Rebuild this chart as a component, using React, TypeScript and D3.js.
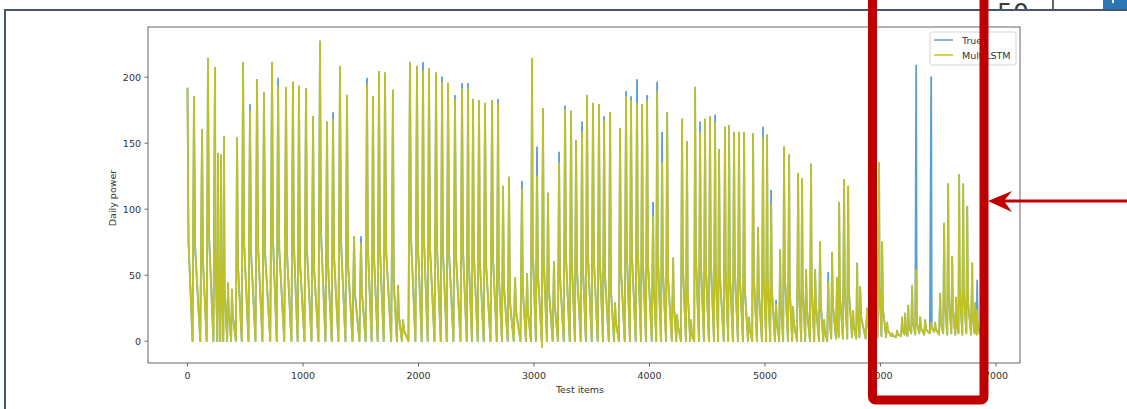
import React from 'react';
import * as d3 from 'd3';

// spike positions (test item index)
const spikeItems = [
  0, 56, 126, 177, 238, 264, 290, 316, 351, 385,
  429, 481, 541, 602, 662, 732, 784, 853, 913, 965,
  1026, 1087, 1147, 1208, 1260, 1320, 1381, 1442, 1502, 1554,
  1606, 1658, 1710, 1779, 1823, 1866, 1926, 1987, 2039, 2091,
  2152, 2204, 2256, 2316, 2377, 2429, 2472, 2524, 2576, 2637,
  2689, 2732, 2784, 2836, 2896, 2940, 2983, 3026, 3078, 3121,
  3173, 3217, 3269, 3321, 3364, 3416, 3459, 3511, 3563, 3607,
  3659, 3702, 3745, 3797, 3840, 3892, 3936, 3979, 4031, 4066,
  4109, 4153, 4205, 4239, 4282, 4325, 4360, 4395, 4438, 4481,
  4524, 4568, 4602, 4654, 4689, 4732, 4775, 4819, 4862, 4897,
  4940, 4983, 5018, 5053, 5096, 5131, 5165, 5209, 5243, 5287,
  5321, 5356, 5399, 5434, 5477, 5512, 5547, 5581, 5624, 5642,
  5685, 5720, 5763, 5798, 5824, 5885, 5928, 5988, 6014, 6058,
  6101, 6144, 6188, 6214, 6240, 6274, 6309, 6344, 6387, 6439,
  6473, 6517, 6551, 6586, 6621, 6655, 6681, 6716, 6751, 6794,
  6820, 6837,
];

const truePeaks = [
  192, 185, 160, 214, 207, 142, 141, 155, 44, 39,
  154, 211, 179, 198, 188, 211, 199, 192, 196, 193,
  191, 170, 227, 166, 173, 208, 186, 79, 79, 199,
  185, 204, 203, 190, 42, 16, 211, 208, 211, 206,
  203, 200, 195, 186, 195, 195, 183, 182, 180, 182,
  183, 117, 124, 48, 121, 51, 214, 147, 176, 112,
  60, 143, 178, 174, 152, 166, 186, 180, 179, 170,
  173, 29, 161, 189, 185, 198, 179, 186, 105, 196,
  158, 173, 63, 20, 168, 151, 16, 192, 166, 168,
  170, 171, 145, 162, 163, 158, 158, 158, 18, 157,
  86, 162, 156, 114, 31, 69, 147, 141, 26, 127,
  123, 54, 134, 54, 75, 16, 52, 67, 48, 105,
  122, 117, 23, 59, 41, 25, 20, 135, 75, 14,
  6, 8, 18, 21, 27, 42, 209, 18, 16, 200,
  14, 36, 89, 119, 64, 33, 126, 119, 102, 59,
  29, 46,
];

const predPeaks = [
  192, 185, 160, 214, 207, 142, 141, 155, 44, 39,
  154, 211, 175, 198, 188, 211, 193, 192, 196, 193,
  191, 170, 227, 166, 168, 208, 186, 79, 74, 194,
  185, 204, 203, 190, 42, 16, 211, 208, 205, 206,
  203, 196, 195, 183, 191, 191, 183, 182, 180, 182,
  180, 117, 124, 48, 115, 51, 214, 125, 176, 112,
  60, 135, 175, 174, 152, 158, 186, 180, 179, 167,
  173, 29, 161, 185, 182, 180, 179, 182, 95, 189,
  135, 173, 63, 20, 168, 151, 16, 192, 158, 168,
  170, 166, 145, 162, 163, 158, 158, 158, 18, 157,
  86, 154, 156, 104, 28, 69, 147, 141, 26, 127,
  123, 54, 134, 54, 75, 16, 45, 67, 48, 105,
  122, 117, 23, 59, 41, 25, 20, 135, 75, 14,
  6, 8, 18, 21, 27, 42, 54, 18, 16, 14,
  14, 36, 89, 119, 64, 33, 126, 119, 102, 59,
  29, 24,
];

// level the line falls back to right after each peak
const shoulders = [
  76, 70, 62, 80, 70, 55, 60, 40, 25, 20,
  58, 75, 68, 72, 65, 78, 70, 66, 74, 60,
  68, 55, 82, 60, 64, 76, 58, 35, 38, 70,
  66, 72, 68, 45, 20, 8, 78, 74, 80, 70,
  72, 68, 66, 64, 70, 62, 66, 60, 58, 64,
  50, 42, 30, 22, 40, 24, 70, 52, 62, 40,
  28, 50, 64, 60, 55, 58, 66, 62, 64, 50,
  40, 15, 55, 68, 66, 70, 62, 60, 45, 64,
  55, 48, 30, 12, 58, 40, 6, 66, 60, 58,
  62, 56, 50, 55, 52, 55, 50, 40, 10, 48,
  38, 52, 48, 40, 16, 30, 50, 40, 14, 45,
  42, 25, 40, 28, 30, 8, 24, 28, 20, 35,
  40, 38, 12, 25, 18, 12, 10, 40, 25, 8,
  4, 5, 8, 10, 12, 15, 14, 10, 9, 10,
  9, 14, 30, 35, 25, 14, 40, 38, 30, 22,
  12, 15,
];

// lowest level between spikes
const troughs = [
  0, 0, 0, 0, 0, 0, 0, 0, 0, 0,
  0, 0, 0, 0, 0, 0, 0, 0, 0, 0,
  0, 0, 0, 0, 0, 0, 0, 0, 0, 0,
  0, 0, 0, 0, 0, 0, 0, 0, 0, 0,
  0, 0, 0, 0, 0, 0, 0, 0, 0, 0,
  0, 0, 0, 0, 0, 0, 0, 0, 0, 0,
  0, 0, 0, 0, 0, 0, 0, 0, 0, 0,
  0, 0, 0, 0, 0, 0, 0, 0, 0, 0,
  0, 0, 0, 0, 0, 0, 0, 0, 0, 0,
  0, 0, 0, 0, 0, 0, 0, 0, 0, 0,
  0, 0, 0, 0, 0, 0, 0, 0, 0, 0,
  0, 0, 0, 0, 0, 0, 2, 2, 3, 2,
  2, 3, 2, 3, 2, 3, 3, 4, 3, 4,
  3, 4, 5, 4, 6, 5, 6, 5, 6, 7,
  5, 6, 5, 6, 5, 6, 5, 6, 5, 6,
  5, 5,
];

const predDips: [number, number][] = [[3069, -4.5]];

const xTicks = [0, 1000, 2000, 3000, 4000, 5000, 6000, 7000];
const yTicks = [0, 50, 100, 150, 200];
const xLimits = [-342, 7208];
const yLimits = [-16.5, 238];

const seriesNames = ['True', 'MultiLSTM'];
const seriesColors = ['#5b9fd3', '#c4c41c'];

function buildSeries(peaks: number[], extra: [number, number][] = []) {
  const pts: [number, number][] = [];
  spikeItems.forEach((item, i) => {
    const next = i < spikeItems.length - 1 ? spikeItems[i + 1] : item + 30;
    const gap = next - item;
    pts.push([item, peaks[i]]);
    pts.push([item + gap * 0.15, Math.min(shoulders[i], peaks[i])]);
    pts.push([item + gap * 0.78, troughs[i]]);
  });
  extra.forEach(p => pts.push(p));
  pts.sort((a, b) => a[0] - b[0]);
  return pts;
}

const font = 'DejaVu Sans, sans-serif';

export default function App() {
  const W = 1127;
  const H = 409;
  const plot = { left: 148, right: 1020, top: 27, bottom: 363 };

  const x = d3.scaleLinear().domain(xLimits).range([plot.left, plot.right]);
  const y = d3.scaleLinear().domain(yLimits).range([plot.bottom, plot.top]);

  const line = d3.line<[number, number]>()
    .x(d => x(d[0]))
    .y(d => y(d[1]));

  const trueSeries = buildSeries(truePeaks);
  const predSeries = buildSeries(predPeaks, predDips);

  const red = '#c00000';

  return (
    <svg width={W} height={H} style={{ position: 'absolute', left: 0, top: 0, background: '#fff' }}>
      {/* bits of the slide behind the screenshot */}
      <text x={997} y={21} fontFamily={font} fontSize={25} fill="#3a3a3a">50</text>
      <line x1={1053} x2={1053} y1={0} y2={10} stroke="#333" strokeWidth={1.5} />
      <rect x={1103} y={0} width={24} height={10} fill="#2e75b6" />
      <rect x={1112} y={0} width={2} height={3} fill="#fff" />
      <rect x={5} y={10} width={W} height={H} fill="#fff" />
      <path d={`M5,${H} L5,10 L${W},10`} fill="none" stroke="#44566b" strokeWidth={2} />

      {/* data */}
      <defs>
        <clipPath id="plotClip">
          <rect x={plot.left} y={plot.top} width={plot.right - plot.left} height={plot.bottom - plot.top} />
        </clipPath>
      </defs>
      <g clipPath="url(#plotClip)">
        <path d={line(trueSeries) || ''} fill="none" stroke={seriesColors[0]} strokeWidth={1.8} strokeLinejoin="round" />
        <path d={line(predSeries) || ''} fill="none" stroke={seriesColors[1]} strokeWidth={1.8} strokeLinejoin="round" strokeOpacity={0.95} />
      </g>

      {/* frame */}
      <rect x={plot.left} y={plot.top} width={plot.right - plot.left} height={plot.bottom - plot.top}
        fill="none" stroke="#666" strokeWidth={1} />

      {/* x axis */}
      {xTicks.map(t => (
        <g key={'x' + t}>
          <line x1={x(t)} x2={x(t)} y1={plot.bottom} y2={plot.bottom + 3.5} stroke="#666" />
          <text x={x(t)} y={379} textAnchor="middle" fontFamily={font} fontSize={9.5} fill="#333">{t}</text>
        </g>
      ))}
      <text x={580} y={393} textAnchor="middle" fontFamily={font} fontSize={9.5} fill="#333">Test items</text>

      {/* y axis */}
      {yTicks.map(t => (
        <g key={'y' + t}>
          <line x1={plot.left - 3.5} x2={plot.left} y1={y(t)} y2={y(t)} stroke="#666" />
          <text x={plot.left - 7} y={y(t) + 3.4} textAnchor="end" fontFamily={font} fontSize={9.5} fill="#333">{t}</text>
        </g>
      ))}
      <text transform={`translate(116,${(plot.top + plot.bottom) / 2 + 3}) rotate(-90)`} textAnchor="middle"
        fontFamily={font} fontSize={9.5} fill="#333">Daily power</text>

      {/* legend */}
      <rect x={930} y={32} width={86} height={33} rx={2} fill="#fff" fillOpacity={0.8} stroke="#d3d3d3" />
      {seriesNames.map((name, i) => (
        <g key={name}>
          <line x1={934} x2={953} y1={40 + i * 15} y2={40 + i * 15} stroke={seriesColors[i]} strokeWidth={1.5} />
          <text x={962} y={43.5 + i * 15} fontFamily={font} fontSize={9.5} fill="#333">{name}</text>
        </g>
      ))}

      {/* highlight box and arrow */}
      <rect x={872.5} y={-20} width={111.5} height={420} rx={3} fill="none" stroke={red} strokeWidth={9} />
      <line x1={W} x2={998} y1={201} y2={201} stroke={red} strokeWidth={3} />
      <path d="M988,201 L1012,191 L1004,201 L1012,212 Z" fill={red} />
    </svg>
  );
}
